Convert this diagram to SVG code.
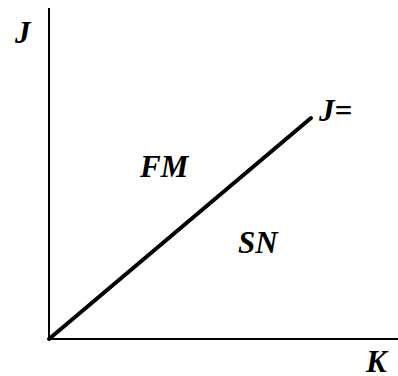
<svg xmlns="http://www.w3.org/2000/svg" width="398" height="376" viewBox="0 0 398 376">
<style>
.lbl{font-family:"Liberation Serif","Times New Roman",serif;font-weight:bold;font-style:italic;font-size:31px;fill:#000}
.ax{stroke:#000;stroke-width:2;fill:none}
</style>
<rect width="398" height="376" fill="#fff"/>
<g id="connectors">
<line class="ax" x1="49" y1="8" x2="49" y2="340"/>
<line class="ax" x1="48" y1="339" x2="398" y2="339"/>
<line x1="49" y1="339" x2="311" y2="118" stroke="#000" stroke-width="4" stroke-linecap="round"/>
</g>
<g id="label-J"><text class="lbl" x="15" y="43">J</text></g>
<g id="label-Jeq"><text class="lbl" x="319" y="121">J=</text></g>
<g id="label-FM"><text class="lbl" x="140" y="177">FM</text></g>
<g id="label-SN"><text class="lbl" x="238" y="253">SN</text></g>
<g id="label-K"><text class="lbl" x="366" y="372">K</text></g>
</svg>
